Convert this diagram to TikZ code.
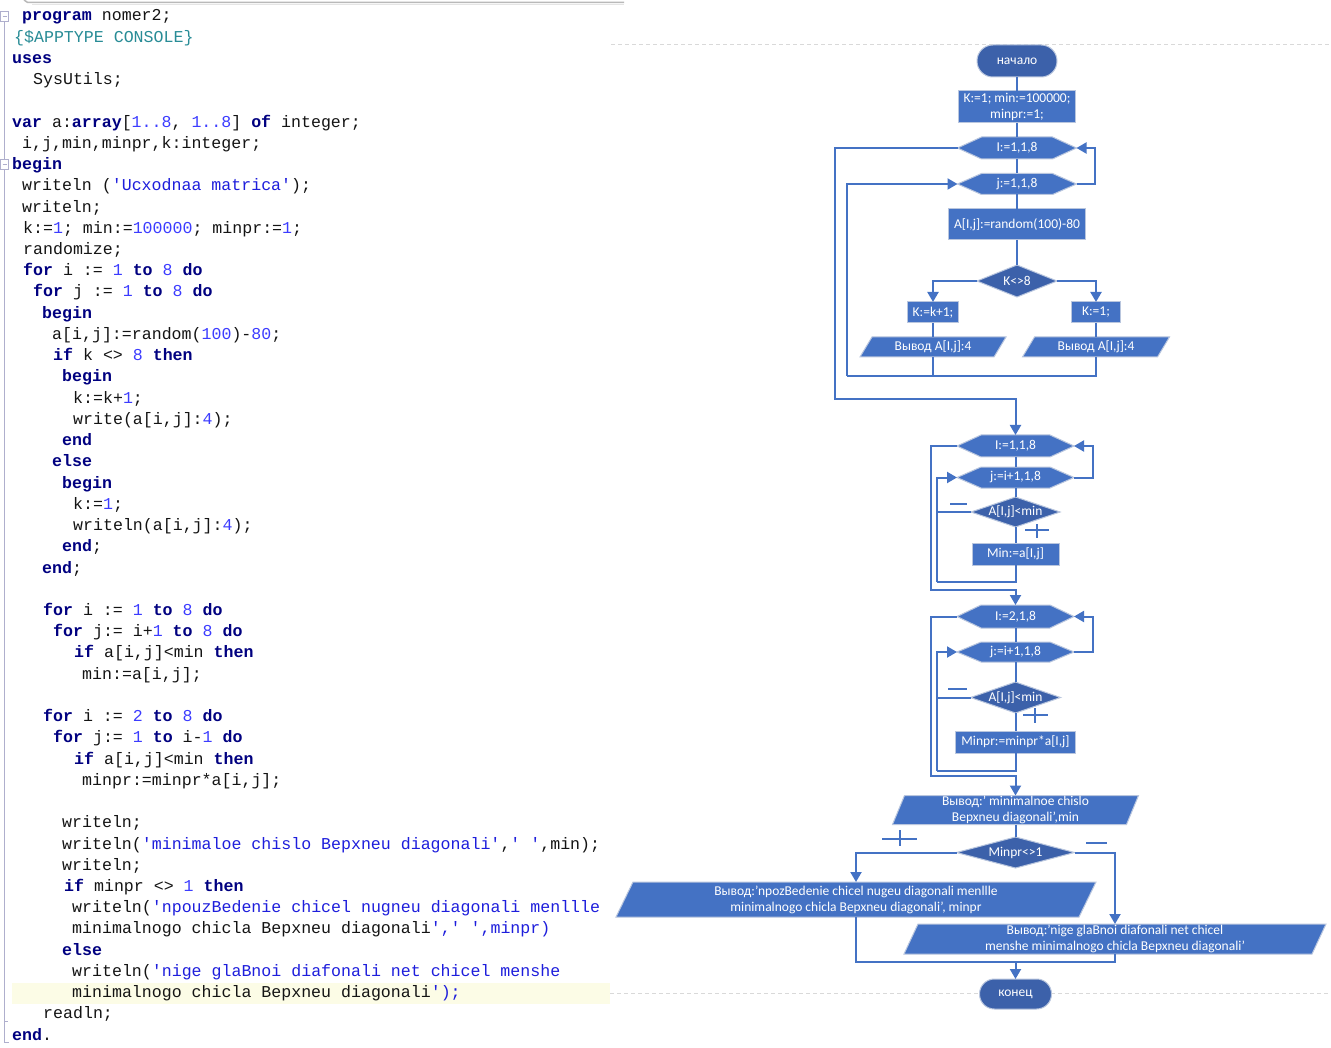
\documentclass[tikz,border=0pt]{standalone}
\usepackage{fontspec}
\setmonofont{Liberation Mono}
\newfontfamily\fcfont{Carlito}
\usetikzlibrary{arrows.meta,calc}
\definecolor{fcblue}{RGB}{68,114,196}
\definecolor{fcdark}{RGB}{60,97,170}
\definecolor{fcedge}{RGB}{185,198,222}
\definecolor{kwc}{RGB}{0,0,128}
\definecolor{numc}{RGB}{60,60,255}
\definecolor{strc}{RGB}{30,30,220}
\definecolor{dirc}{RGB}{40,140,150}
\definecolor{idc}{RGB}{20,20,20}
\definecolor{gutc}{RGB}{175,175,205}
\definecolor{hlc}{RGB}{252,252,230}
\newcommand\cKw[1]{{\bfseries\color{kwc}#1}}
\newcommand\cNu[1]{{\color{numc}#1}}
\newcommand\cSt[1]{{\color{strc}#1}}
\newcommand\cDr[1]{{\color{dirc}#1}}
\frenchspacing
% hexagon: name x y w h text
\newcommand\fcHex[6]{%
  \path[shp] (#2-#4/2,#3) -- (#2-#4/2+24,#3-#5/2) -- (#2+#4/2-24,#3-#5/2) -- (#2+#4/2,#3) -- (#2+#4/2-24,#3+#5/2) -- (#2-#4/2+24,#3+#5/2) -- cycle;
  \node[anch, minimum width=#4, minimum height=#5] (#1) at (#2,#3) {};
  \node[lbl] (#1t) at (#2,#3) {#6};}
% diamond: name x y w h text
\newcommand\fcDia[6]{%
  \path[shp, fill=fcdark] (#2-#4/2,#3) -- (#2,#3-#5/2) -- (#2+#4/2,#3) -- (#2,#3+#5/2) -- cycle;
  \node[anch, minimum width=#4, minimum height=#5] (#1) at (#2,#3) {};
  \node[lbl] (#1t) at (#2,#3) {#6};}
% parallelogram: name x y w h slant text
\newcommand\fcPar[7]{%
  \path[shp] (#2-#4/2+#6,#3-#5/2) -- (#2+#4/2,#3-#5/2) -- (#2+#4/2-#6,#3+#5/2) -- (#2-#4/2,#3+#5/2) -- cycle;
  \node[anch, minimum width=#4-2*#6, minimum height=#5] (#1) at (#2,#3) {};
  \node[lbl] (#1t) at (#2,#3) {#7};}
\begin{document}
\begin{tikzpicture}[x=1pt,y=-1pt,
  conn/.style={draw=fcblue, line width=2pt},
  arr/.style={-{Triangle[length=10pt,width=11pt]}},
  shp/.style={fill=fcblue, draw=fcedge, line width=1pt},
  anch/.style={inner sep=0pt, outer sep=0pt, draw=none},
  lbl/.style={inner sep=0pt, text=white, font=\fcfont\fontsize{13.5}{16}\selectfont, align=center},
  procbox/.style={shp, inner sep=0pt, outer sep=0pt, text=white, font=\fcfont\fontsize{13.5}{16}\selectfont, align=center},
  term/.style={procbox, fill=fcdark},
  code/.style={anchor=base west, inner sep=0pt, text=idc, font=\ttfamily\fontsize{16.6}{20}\selectfont},
  sign/.style={draw=fcblue, line width=1.6pt},
  ]
\useasboundingbox (0,0) rectangle (1331,1048);
\fill[white] (0,0) rectangle (1331,1048);

% ---------- code panel decorations ----------
\draw[gray!55, line width=1.5pt] (24,0) to[out=-60,in=180] (32,2.5) -- (624,2.5);
\draw[gray!20, line width=1pt] (32,4.5) -- (624,4.5);
\fill[hlc] (12,983) rectangle (610,1004);
\draw[gray!30, line width=1pt, dash pattern=on 4pt off 3pt] (611,45) -- (1331,45);
\draw[gray!30, line width=1pt, dash pattern=on 4pt off 3pt] (610,993) -- (1331,993);
\draw[gutc, line width=1pt] (4,22) -- (4,159);
\draw[gutc, line width=1pt] (4,170) -- (4,1042) -- (9,1042);
\draw[gutc, line width=1pt] (4,1021) -- (8,1021);
\draw[gutc, line width=0.8pt, fill=white] (0.5,11.5) rectangle (8.5,21.5);
\draw[gutc, line width=0.8pt] (2.5,16.5) -- (6.5,16.5);
\draw[gutc, line width=0.8pt, fill=white] (0.5,159.5) rectangle (8.5,169.5);
\draw[gutc, line width=0.8pt] (2.5,164.5) -- (6.5,164.5);

% ---------- code text ----------
\node[code] (c0) at (22,21) {\cKw{program} nomer2;};
\node[code] (c1) at (14,42.2) {\cDr{\{\$APPTYPE CONSOLE\}}};
\node[code] (c2) at (12,63.5) {\cKw{uses}};
\node[code] (c3) at (33,84.7) {SysUtils;};
\node[code] (c5) at (12,127.2) {\cKw{var} a:\cKw{array}[\cNu{1..8}, \cNu{1..8}] \cKw{of} integer;};
\node[code] (c6) at (22,148.4) {i,j,min,minpr,k:integer;};
\node[code] (c7) at (12,169.6) {\cKw{begin}};
\node[code] (c8) at (22,190.8) {writeln (\cSt{'Ucxodnaa matrica'});};
\node[code] (c9) at (22,212.1) {writeln;};
\node[code] (c10) at (23,233.3) {k:=\cNu{1}; min:=\cNu{100000}; minpr:=\cNu{1};};
\node[code] (c11) at (23,254.5) {randomize;};
\node[code] (c12) at (23,275.8) {\cKw{for} i := \cNu{1} \cKw{to} \cNu{8} \cKw{do}};
\node[code] (c13) at (33,297.0) {\cKw{for} j := \cNu{1} \cKw{to} \cNu{8} \cKw{do}};
\node[code] (c14) at (42,318.2) {\cKw{begin}};
\node[code] (c15) at (52,339.4) {a[i,j]:=random(\cNu{100})-\cNu{80};};
\node[code] (c16) at (53,360.7) {\cKw{if} k <> \cNu{8} \cKw{then}};
\node[code] (c17) at (62,381.9) {\cKw{begin}};
\node[code] (c18) at (73,403.1) {k:=k+\cNu{1};};
\node[code] (c19) at (73,424.4) {write(a[i,j]:\cNu{4});};
\node[code] (c20) at (62,445.6) {\cKw{end}};
\node[code] (c21) at (52,466.8) {\cKw{else}};
\node[code] (c22) at (62,488.1) {\cKw{begin}};
\node[code] (c23) at (73,509.3) {k:=\cNu{1};};
\node[code] (c24) at (73,530.5) {writeln(a[i,j]:\cNu{4});};
\node[code] (c25) at (62,551.8) {\cKw{end};};
\node[code] (c26) at (42,573.0) {\cKw{end};};
\node[code] (c28) at (43,615.4) {\cKw{for} i := \cNu{1} \cKw{to} \cNu{8} \cKw{do}};
\node[code] (c29) at (53,636.7) {\cKw{for} j:= i+\cNu{1} \cKw{to} \cNu{8} \cKw{do}};
\node[code] (c30) at (74,657.9) {\cKw{if} a[i,j]<min \cKw{then}};
\node[code] (c31) at (82,679.1) {min:=a[i,j];};
\node[code] (c33) at (43,721.6) {\cKw{for} i := \cNu{2} \cKw{to} \cNu{8} \cKw{do}};
\node[code] (c34) at (53,742.8) {\cKw{for} j:= \cNu{1} \cKw{to} i-\cNu{1} \cKw{do}};
\node[code] (c35) at (74,764.1) {\cKw{if} a[i,j]<min \cKw{then}};
\node[code] (c36) at (82,785.3) {minpr:=minpr*a[i,j];};
\node[code] (c38) at (62,827.7) {writeln;};
\node[code] (c39) at (62,849.0) {writeln(\cSt{'minimaloe chislo Bepxneu diagonali'},\cSt{' '},min);};
\node[code] (c40) at (62,870.2) {writeln;};
\node[code] (c41) at (64,891.4) {\cKw{if} minpr <> \cNu{1} \cKw{then}};
\node[code] (c42) at (72,912.7) {writeln(\cSt{'npouzBedenie chicel nugneu diagonali menllle}};
\node[code] (c43) at (72,933.9) {minimalnogo chicla Bepxneu diagonali\cSt{',' ',minpr)}};
\node[code] (c44) at (62,955.1) {\cKw{else}};
\node[code] (c45) at (72,976.4) {writeln(\cSt{'nige glaBnoi diafonali net chicel menshe}};
\node[code] (c46) at (72,997.6) {minimalnogo chicla Bepxneu diagonali\cSt{');}};
\node[code] (c47) at (43,1018.8) {readln;};
\node[code] (c48) at (12,1040.0) {\cKw{end}.};

% ---------- flowchart: block 1 ----------
\node[term, minimum width=80pt, minimum height=32pt, rounded corners=15.9pt] (start) at (1017,61) {начало};
\node[procbox, minimum width=117pt, minimum height=32pt] (init) at (1017,107) {K:=1; min:=100000;\\minpr:=1;};
\fcHex{I1}{1017}{148}{119}{22}{I:=1,1,8}
\fcHex{J1}{1017}{184}{119}{21}{j:=1,1,8}
\node[procbox, minimum width=137pt, minimum height=31pt] (A1) at (1017,224.5) {A[I,j]:=random(100)-80};
\fcDia{D1}{1017}{281}{80}{32}{K<>8}
\node[procbox, minimum width=51pt, minimum height=21pt] (kk) at (933,312.5) {K:=k+1;};
\node[procbox, minimum width=49pt, minimum height=21pt] (k1) at (1096,312.5) {K:=1;};
\fcPar{P1}{933}{347}{146}{20}{12}{Вывод A[I,j]:4}
\fcPar{P2}{1096}{347}{147}{20}{12}{Вывод A[I,j]:4}

% ---------- block 2 ----------
\fcHex{I2}{1015.5}{446}{117}{22}{I:=1,1,8}
\fcHex{J2}{1015.5}{477.5}{117}{21}{j:=i+1,1,8}
\fcDia{D2}{1015.5}{512}{89}{30}{A[I,j]<min}
\node[procbox, minimum width=87pt, minimum height=22pt] (M2) at (1015.5,554) {Min:=a[I,j]};

% ---------- block 3 ----------
\fcHex{I3}{1015.5}{616.5}{117}{23}{I:=2,1,8}
\fcHex{J3}{1015.5}{652}{117}{20}{j:=i+1,1,8}
\fcDia{D3}{1015.5}{697.5}{90}{31}{A[I,j]<min}
\node[procbox, minimum width=120pt, minimum height=22pt] (M3) at (1015.5,742) {Minpr:=minpr*a[I,j]};

% ---------- output part ----------
\fcPar{O1}{1015.5}{810}{246}{29}{12}{Вывод:’ minimalnoe chislo\\Bepxneu diagonali’,min}
\fcDia{D4}{1015.5}{852.5}{118}{31}{Minpr<>1}
\fcPar{P3}{856}{899.5}{480}{35}{17}{Вывод:’npozBedenie chicel nugeu diagonali menllle\\minimalnogo chicla Bepxneu diagonali’, minpr}
\fcPar{P4}{1115}{939}{422}{30}{14}{Вывод:’nige glaBnoi diafonali net chicel\\menshe minimalnogo chicla Bepxneu diagonali’}
\node[term, minimum width=72pt, minimum height=30pt, rounded corners=14.9pt] (fin) at (1015.5,994) {конец};

% ---------- connectors block 1 ----------
\draw[conn] (start) -- (init);
\draw[conn] (init) -- (I1);
\draw[conn] (I1) -- (J1);
\draw[conn] (J1) -- (A1);
\draw[conn] (A1) -- (D1);
\draw[conn,arr] (D1.west) -| (kk.north);
\draw[conn,arr] (D1.east) -| (k1.north);
\draw[conn] (kk) -- (P1);
\draw[conn] (k1) -- (P2);
\coordinate (j1) at (847,376);
\draw[conn] (P2.south) |- (j1);
\draw[conn] (P1.south) -- (P1.south |- j1);
\draw[conn,arr] (j1) |- (J1.west);
\coordinate (r1) at (1095,184);
\draw[conn,arr] (J1.east) -- (r1) |- (I1.east);
\coordinate (o1) at (835,399);
\draw[conn,arr] (I1.west) -| (o1) -| (I2.north);

% ---------- connectors block 2 ----------
\draw[conn] (I2) -- (J2);
\draw[conn] (J2) -- (D2);
\draw[conn] (D2) -- (M2);
\coordinate (b2) at (937,582);
\draw[conn] (M2.south) |- (b2);
\draw[conn,arr] (b2) |- (J2.west);
\draw[conn] (D2.west) -- (D2.west -| b2);
\coordinate (r2) at (1093,477.5);
\draw[conn,arr] (J2.east) -- (r2) |- (I2.east);
\coordinate (o2) at (931,590);
\draw[conn,arr] (I2.west) -| (o2) -| (I3.north);

% ---------- connectors block 3 ----------
\draw[conn] (I3) -- (J3);
\draw[conn] (J3) -- (D3);
\draw[conn] (D3) -- (M3);
\coordinate (b3) at (937,771);
\draw[conn] (M3.south) |- (b3);
\draw[conn,arr] (b3) |- (J3.west);
\draw[conn] (D3.west) -- (D3.west -| b3);
\coordinate (r3) at (1093,652);
\draw[conn,arr] (J3.east) -- (r3) |- (I3.east);
\coordinate (o3) at (931,776);
\draw[conn,arr] (I3.west) -| (o3) -| (O1.north);

% ---------- connectors output ----------
\draw[conn] (O1) -- (D4);
\draw[conn,arr] (D4.west) -| (P3.north);
\draw[conn,arr] (D4.east) -| (P4.north);
\coordinate (jb) at (1115,962);
\draw[conn] (P3.south) |- (jb) -- (P4.south);
\draw[conn,arr] (fin.north |- jb) -- (fin.north);

% ---------- plus / minus marks ----------
\draw[sign] (950,504) -- (967,504);
\draw[sign] (1025,530) -- (1049,530);
\draw[sign] (1037,524) -- (1037,538);
\draw[sign] (948,689) -- (967,689);
\draw[sign] (1023,715) -- (1048,715);
\draw[sign] (1035,708) -- (1035,723);
\draw[sign] (882,839) -- (917,839);
\draw[sign] (900,830) -- (900,846);
\draw[sign] (1086,843) -- (1107,843);
\end{tikzpicture}
\end{document}
